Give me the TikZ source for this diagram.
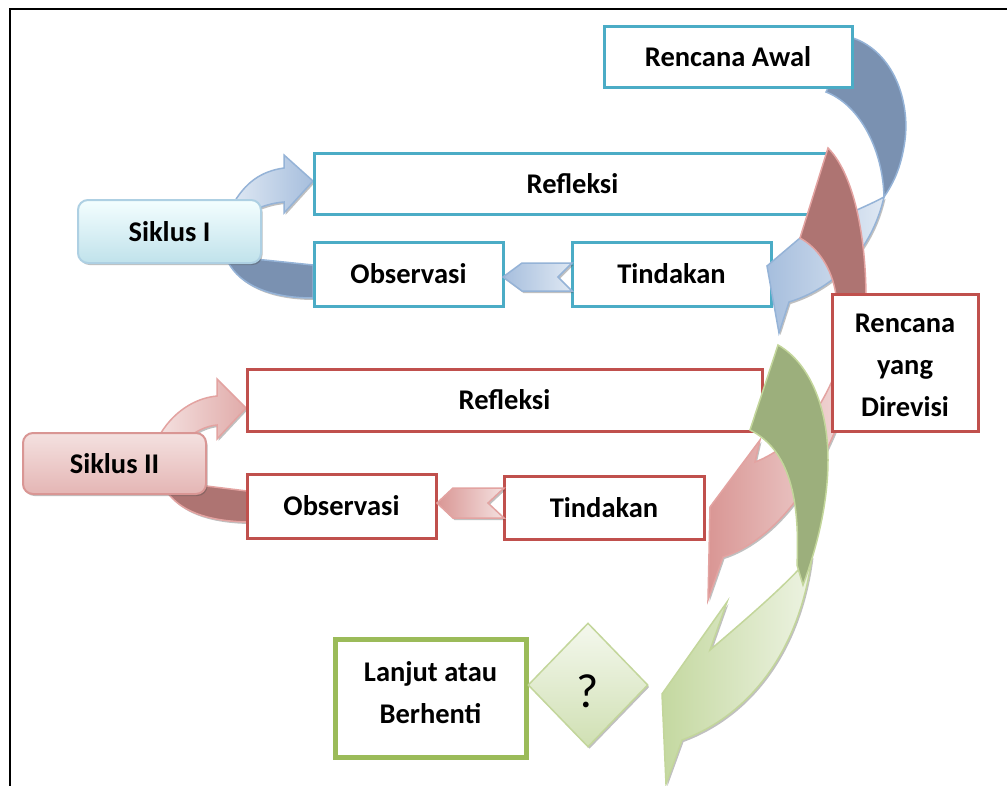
\documentclass[tikz,border=0pt]{standalone}
\usepackage{fontspec}
\setmainfont{Carlito}
\usetikzlibrary{shadows,shapes.geometric}
\definecolor{tealB}{HTML}{4BACC6}
\definecolor{redB}{HTML}{C0504D}
\definecolor{greenB}{HTML}{9BBB59}
\definecolor{blueD}{HTML}{7A91B1}
\definecolor{blueLa}{HTML}{A6BEDD}
\definecolor{blueLb}{HTML}{DFE8F3}
\definecolor{blueE}{HTML}{95B3D7}
\definecolor{redD}{HTML}{AE7472}
\definecolor{redLa}{HTML}{D99694}
\definecolor{redLb}{HTML}{F4E1E0}
\definecolor{redE}{HTML}{E3A3A1}
\definecolor{greenD}{HTML}{9CAF7C}
\definecolor{greenLa}{HTML}{C4D8A0}
\definecolor{greenLb}{HTML}{EDF3E2}
\definecolor{greenE}{HTML}{C3D69B}
\newcommand\lblfont{\fontsize{28.5}{42}\selectfont\bfseries}
\begin{document}
\begin{tikzpicture}[x=1pt,y=-1pt,
  shd/.style={drop shadow={shadow xshift=1.5pt,shadow yshift=-2pt,opacity=0.35,fill=black!70}},
  tbox/.style={draw=tealB,line width=3pt,fill=white,inner sep=0pt,font=\lblfont,align=center},
  rbox/.style={draw=redB,line width=3pt,fill=white,inner sep=0pt,font=\lblfont,align=center},
  gbox/.style={draw=greenB,line width=5pt,fill=white,inner sep=0pt,font=\lblfont,align=center},
  plain/.style={inner sep=0pt,font=\lblfont,align=center},
  sbluebox/.style={rounded corners=10pt,draw=blueE!60!tealB!60,line width=2pt,top color=blueLb!50!cyan!8,bottom color=tealB!35,inner sep=0pt,font=\lblfont,shd},
  sredbox/.style={rounded corners=10pt,draw=redLa,line width=2pt,top color=redLb,bottom color=redLa!70,inner sep=0pt,font=\lblfont,shd},
  bedge/.style={draw=blueE,line width=1.5pt},
  redge/.style={draw=redE,line width=1.5pt},
  gedge/.style={draw=greenE,line width=1.5pt}]
\useasboundingbox (0,0) rectangle (1007,785);
\fill[white] (0,0) rectangle (1007,785);
% frame
\draw[line width=2pt,line cap=rect] (10,785) -- (10,9) -- (1007,9);

% ---- Siklus I arrows
\shade[shd,left color=blueLb,right color=blueLa,bedge] (232,206) .. controls (245,182) and (262,171) .. (284,168) -- (284,155) -- (313,181) -- (284,213) -- (284,202) .. controls (272,203) and (262,206) .. (250,212) -- cycle;
\fill[shd,blueD,bedge] (245,258) -- (313,265) -- (313,298) .. controls (270,298) and (240,285) .. (228,262) -- cycle;

\node[sbluebox,minimum width=183pt,minimum height=63pt] (s1) at (169.5,231.5) {Siklus I};
\node[tbox,minimum width=517pt,minimum height=61pt] (ref1) at (572.5,183.5) {Refleksi};
\node[tbox,minimum width=189pt,minimum height=64pt] (obs1) at (408.5,274) {Observasi};
\node[tbox,minimum width=199pt,minimum height=64pt] (tin1) at (671.5,274) {Tindakan};
\shade[shd,left color=blueLa,right color=blueLb,bedge] (503,277) -- (522,263) -- (572,263) -- (558,277) -- (572,291) -- (522,291) -- cycle;

% ---- Siklus II arrows
\shade[shd,left color=redLb,right color=redLa!80,redge] (158,438) .. controls (172,412) and (195,398) .. (217,396) -- (217,379) -- (246,408) -- (217,439) -- (217,425) .. controls (208,426) and (200,429) .. (190,436) -- cycle;
\fill[shd,redD,redge] (190,484) -- (247,491) -- (247,522) .. controls (205,521) and (180,510) .. (167,492) -- cycle;

\node[sredbox,minimum width=183pt,minimum height=61pt] (s2) at (114.5,463.5) {Siklus II};
\node[rbox,minimum width=515pt,minimum height=62pt] (ref2) at (504.5,400) {Refleksi};
\node[rbox,minimum width=189pt,minimum height=64pt] (obs2) at (341.5,506) {Observasi};
\node[rbox,minimum width=200pt,minimum height=63pt] (tin2) at (604,507.5) {Tindakan};
\shade[shd,left color=redLa,right color=redLb,redge] (437,503) -- (453,488) -- (504,488) -- (488,503) -- (504,518) -- (453,518) -- cycle;

% ---- big blue arrow
\fill[blueD,bedge] (853,38) .. controls (893,52) and (910,100) .. (905,140) .. controls (901,170) and (892,185) .. (884,197) .. controls (883,150) and (860,105) .. (826,92) -- cycle;
\shade[shd,left color=blueLa,right color=blueLb,bedge] (884,197) .. controls (860,210) and (825,222) .. (800,238) -- (767,266) -- (779,333) -- (789,302) .. controls (835,288) and (872,250) .. (884,197) -- cycle;

\node[tbox,minimum width=248pt,minimum height=61pt] (ra) at (728,56.5) {Rencana Awal};

% ---- big red arrow
\fill[redD,redge] (828,148) .. controls (852,172) and (866,230) .. (866,300) -- (866,330) -- (840,330) -- (836,295) .. controls (832,268) and (818,248) .. (800,238) -- cycle;
\shade[shd,left color=redLa,right color=redLb,redge] (848,330) .. controls (835,395) and (800,445) .. (755,462) -- (760,440) -- (710,507) -- (708,600) -- (723,557) .. controls (775,540) and (835,475) .. (866,330) -- cycle;

\node[rbox,minimum width=146pt,minimum height=137pt] (rev) at (905,362.5) {};
\node[plain] (revt) at ([yshift=-2.5pt]rev.center) {Rencana\\yang\\Direvisi};

% ---- big green arrow
\shade[shd,left color=greenLa,right color=greenLb,gedge] (800,568) .. controls (778,592) and (738,626) .. (710,650) -- (727,602) -- (662,694) -- (666,784) -- (682,740) .. controls (750,715) and (800,650) .. (812,556) -- cycle;
\fill[greenD,gedge] (778,345) .. controls (808,362) and (828,405) .. (828,460) .. controls (828,505) and (816,550) .. (803,585) -- (797,565) .. controls (800,500) and (790,450) .. (750,430) -- cycle;

% ---- decision
\node[gbox,minimum width=191pt,minimum height=118pt] (lb) at (430.5,698) {};
\node[plain] (lbt) at ([yshift=5pt]lb.center) {Lanjut atau\\Berhenti};
\node[diamond,shd,draw=greenE,line width=1.5pt,top color=greenLb!60,bottom color=greenLa!80,minimum width=120pt,minimum height=124pt,inner sep=0pt] (q) at (588,685) {};
\node[inner sep=0pt,font=\fontsize{48}{50}\selectfont] (qt) at ([yshift=-6pt]q.center) {?};
\end{tikzpicture}
\end{document}
